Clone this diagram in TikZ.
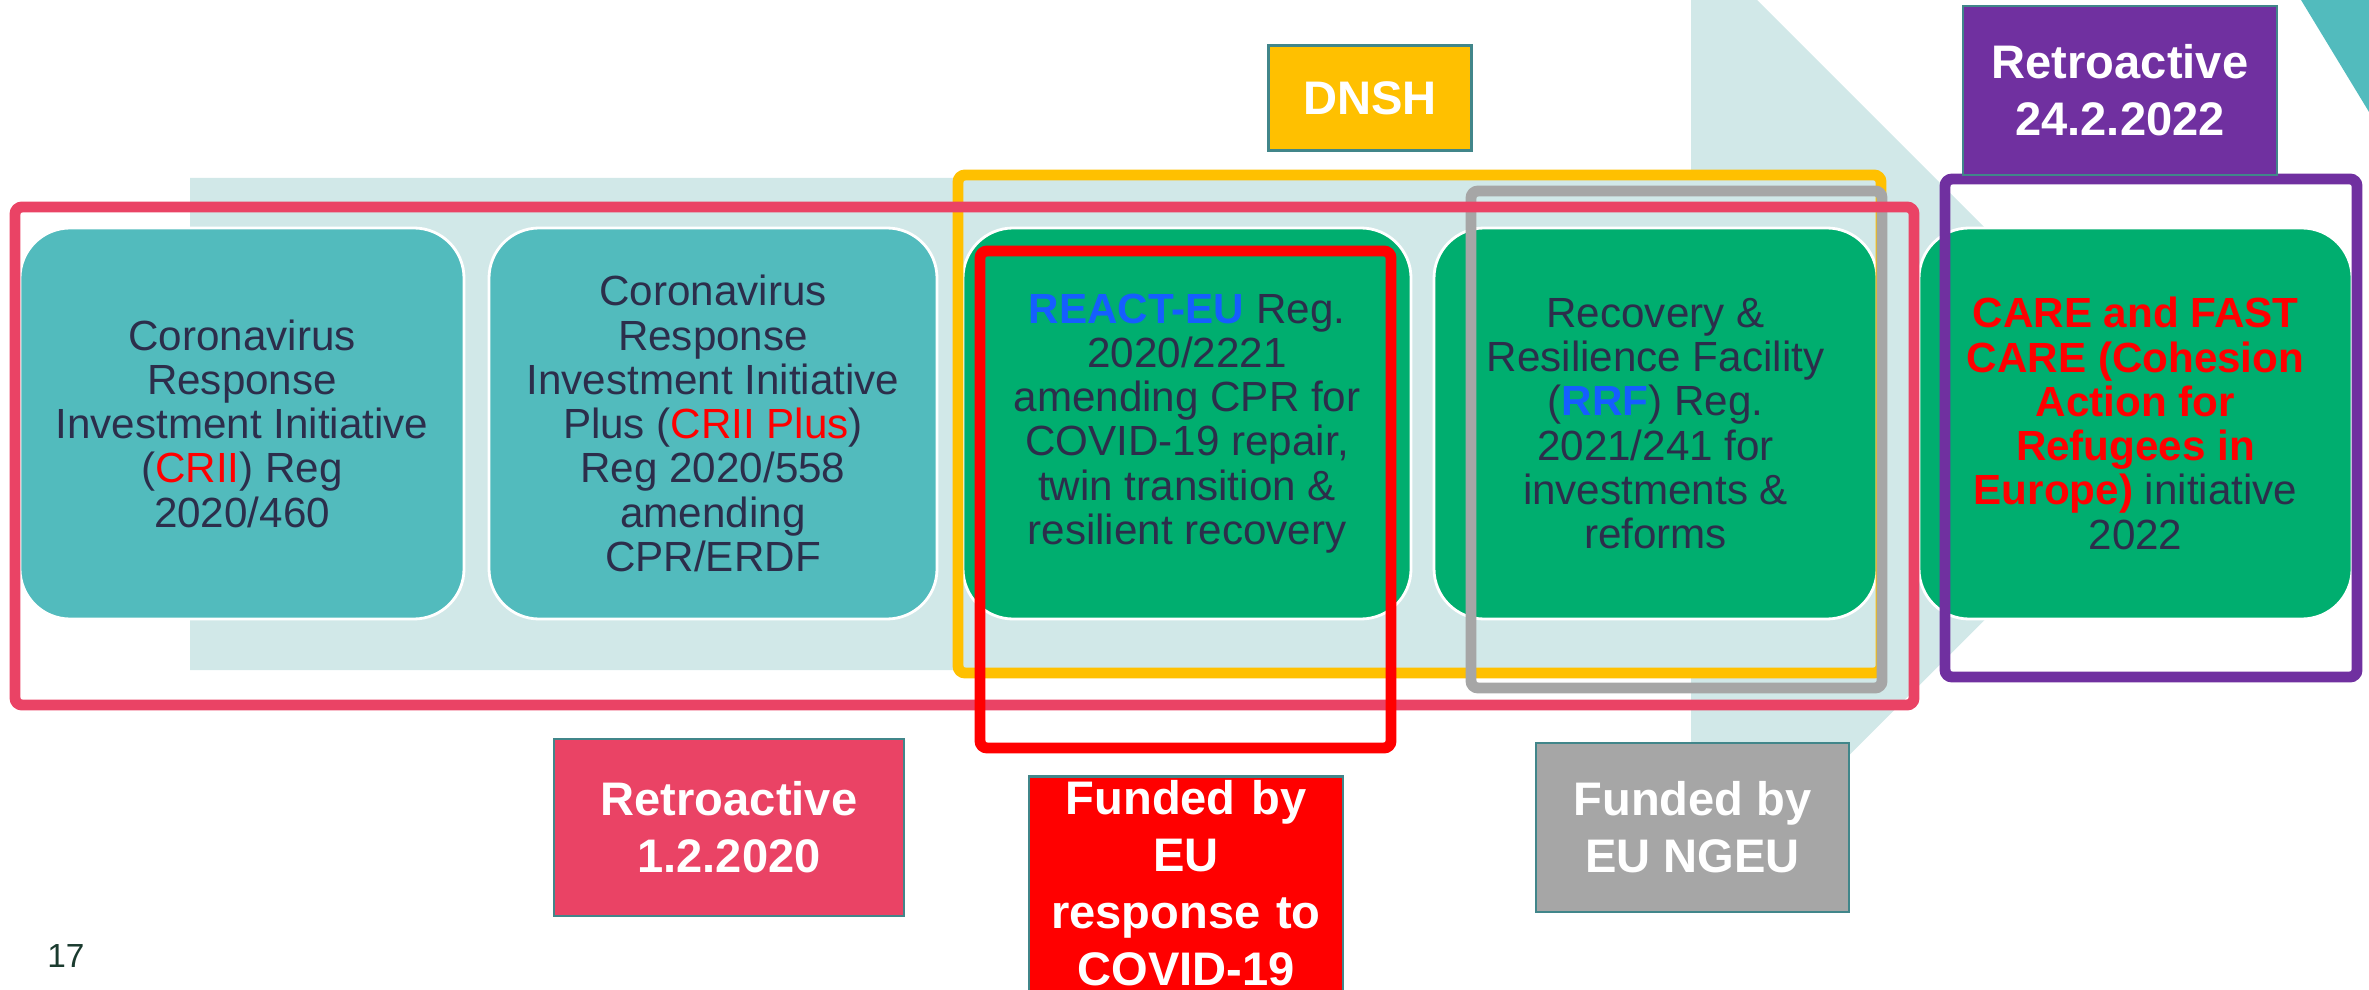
\documentclass[tikz,border=0pt]{standalone}
\usepackage{fontspec}
\setmainfont{Liberation Sans}
\definecolor{arrowbg}{HTML}{D1E8E8}
\definecolor{tealfill}{HTML}{52BBBD}
\definecolor{greenfill}{HTML}{00AE6F}
\definecolor{navytext}{HTML}{2C2E4B}
\definecolor{pinkc}{HTML}{EA4365}
\definecolor{yellowc}{HTML}{FFC000}
\definecolor{greyc}{HTML}{A6A6A6}
\definecolor{redc}{HTML}{FF0000}
\definecolor{purplec}{HTML}{7030A0}
\definecolor{reactblue}{HTML}{155EFF}
\definecolor{tagline}{HTML}{41868A}
\definecolor{pagegreen}{HTML}{1B3B2F}
\tikzset{
  regbox/.style = {rectangle, rounded corners=0.5cm, draw=white, line width=0.8pt,
    minimum height=3.91cm, align=center, text=navytext,
    font=\fontsize{12}{12.6}\selectfont},% regulation box
  regteal/.style = {regbox, fill=tealfill},% CRII boxes
  reggreen/.style = {regbox, fill=greenfill},% later boxes
  tag/.style = {rectangle, draw=tagline, line width=0.8pt, align=center,
    text=white, inner sep=0pt, font=\fontsize{13.4}{16.2}\selectfont\bfseries},
  frame/.style = {line width=3.1pt, rounded corners=2pt}
}

\begin{document}
\begin{tikzpicture}[x=0.1mm, y=-0.1mm]
  \useasboundingbox (0,0) rectangle (2369,990);
  \clip (0,0) rectangle (2369,990);
  % background arrows
  \fill[arrowbg] (190,178) -- (1691,178) -- (1691,-66) -- (2181,424)
    -- (1691,913) -- (1691,670) -- (190,670) -- cycle;
  \fill[tealfill] (2301,0) -- (2369,0) -- (2369,112) -- cycle;
  % regulations
  \node [regteal, minimum width=4.44cm] (crii) at (242,423.5)
    {Coronavirus\\Response\\Investment Initiative\\(\textcolor{redc}{CRII}) Reg\\2020/460};
  \node [regteal, minimum width=4.48cm] (criiplus) at (713,423.5)
    {Coronavirus\\Response\\Investment Initiative\\Plus (\textcolor{redc}{CRII Plus})\\Reg 2020/558\\amending\\CPR/ERDF};
  \node [reggreen, minimum width=4.48cm] (react) at (1187,423.5)
    {\textcolor{reactblue}{\textbf{REACT-EU}} Reg.\\2020/2221\\amending CPR for\\COVID-19 repair,\\twin transition \&\\resilient recovery};
  \node [reggreen, minimum width=4.43cm] (rrf) at (1655.5,423.5)
    {Recovery \&\\Resilience Facility\\(\textcolor{reactblue}{\textbf{RRF}}) Reg.\\2021/241 for\\investments \&\\reforms};
  \node [reggreen, minimum width=4.33cm] (care) at (2135.5,423.5)
    {\textcolor{redc}{\textbf{CARE and FAST}}\\\textcolor{redc}{\textbf{CARE (Cohesion}}\\\textcolor{redc}{\textbf{Action for}}\\\textcolor{redc}{\textbf{Refugees in}}\\\textcolor{redc}{\textbf{Europe)}} initiative\\2022};
  % groupings
  \draw[frame, yellowc] (958,175) rectangle (1881,673);
  \draw[frame, greyc] (1471,191) rectangle (1882,688);
  \draw[frame, pinkc] (15,207) rectangle (1914,705);
  \draw[frame, redc] (980,251) rectangle (1391,748);
  \draw[frame, purplec] (1945,179) rectangle (2357,677);
  % tags
  \node [tag, fill=yellowc, minimum width=2.03cm, minimum height=1.05cm] (dnsh) at (1370,98) {DNSH};
  \node [tag, fill=purplec, minimum width=3.14cm, minimum height=1.69cm] (retrocare) at (2120,90.5) {Retroactive\\24.2.2022};
  \node [tag, fill=pinkc, minimum width=3.50cm, minimum height=1.77cm] (retrocrii) at (729,827.5) {Retroactive\\1.2.2020};
  \node [tag, fill=greyc, minimum width=3.13cm, minimum height=1.69cm] (fundngeu) at (1692.5,827.5) {Funded by\\EU NGEU};
  \node [tag, fill=redc, text width=3.14cm, inner ysep=0.04cm, text depth=2.3cm, anchor=north] (fundcovid) at (1186,775)
    {Funded by\\EU\\response to\\COVID-19};
  \node [anchor=base west, text=pagegreen, font=\fontsize{9.5}{10}\selectfont] (pagenum) at (35,967) {17};
\end{tikzpicture}
\end{document}
